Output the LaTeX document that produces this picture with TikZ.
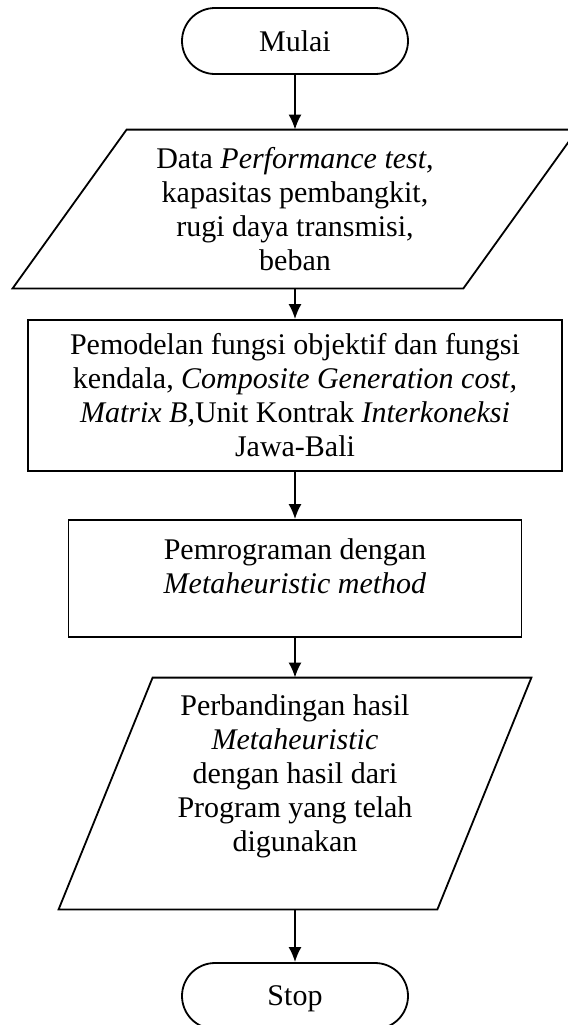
\documentclass[tikz,border=0pt]{standalone}
\usepackage{fontspec}
\setmainfont{Liberation Serif}
\usepackage{tikz}
\usetikzlibrary{shapes,arrows.meta,positioning,calc}

\tikzset{
  txt/.style={font=\fontsize{15pt}{17pt}\selectfont, align=center, inner sep=0pt},
  terminal/.style={txt, draw, line width=0.9pt, rounded corners=16.5pt,
    minimum width=113pt, minimum height=33pt, text depth=0pt},
  process/.style={txt, draw, line width=0.9pt},
  iobox/.style={txt},
  flow/.style={line width=0.9pt, -{Latex[length=7.5pt,width=6.5pt]}},
}

\begin{document}
\begin{tikzpicture}[x=1pt,y=1pt]
\useasboundingbox (0,0) rectangle (284,-512.5);

\node[terminal] (mulai) at (147.5,-20.5) {Mulai};
\node[iobox, minimum width=225pt, minimum height=79pt] (data) at (147.5,-104.5)
  {Data \textit{Performance test},\\ kapasitas pembangkit,\\ rugi daya transmisi,\\ beban};
\node[process, minimum width=267pt, minimum height=75.5pt] (model) at (147.5,-197.75)
  {Pemodelan fungsi objektif dan fungsi\\ kendala, \textit{Composite Generation cost,}\\
   \textit{Matrix B,}Unit Kontrak \textit{Interkoneksi}\\ Jawa-Bali};
\node[process, minimum width=226.5pt, minimum height=58.5pt, text depth=12.5pt] (prog) at (147.5,-289.25)
  {Pemrograman dengan\\ \textit{Metaheuristic method}};
\node[iobox, minimum width=189pt, minimum height=115.5pt, text depth=20pt] (banding) at (147.5,-396.75)
  {Perbandingan hasil\\ \textit{Metaheuristic}\\ dengan hasil dari\\ Program yang telah\\ digunakan};
\node[terminal] (stop) at (147.5,-498) {Stop};

% input/output boxes
\draw[line width=0.9pt] ([xshift=28.5pt]data.north west) -- ([xshift=28.5pt]data.north east)
  -- ([xshift=-28.5pt]data.south east) -- ([xshift=-28.5pt]data.south west) -- cycle;
\draw[line width=0.9pt] ([xshift=23.5pt]banding.north west) -- ([xshift=23.5pt]banding.north east)
  -- ([xshift=-23.5pt]banding.south east) -- ([xshift=-23.5pt]banding.south west) -- cycle;

\foreach \a/\b in {mulai/data, data/model, model/prog, prog/banding, banding/stop}
  \draw[flow] (\a.south) -- (\b.north);
\end{tikzpicture}
\end{document}
